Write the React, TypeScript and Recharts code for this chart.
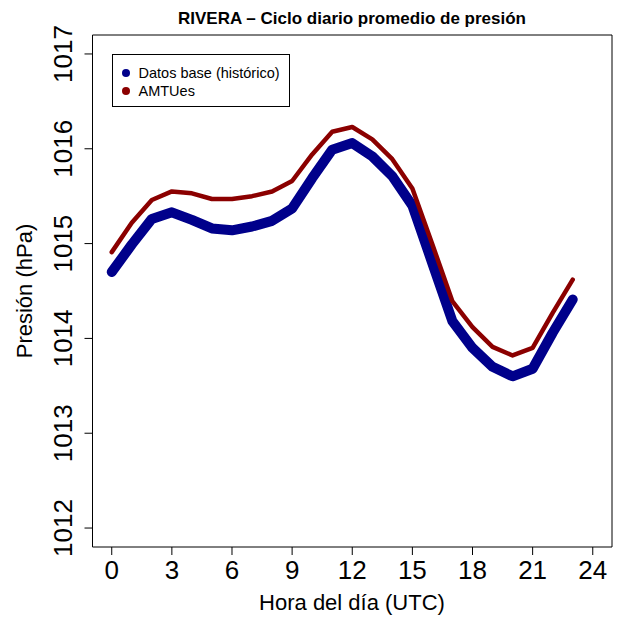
import { LineChart, Line, XAxis, YAxis, ReferenceArea } from "recharts"

const HOURS = [0, 1, 2, 3, 4, 5, 6, 7, 8, 9, 10, 11, 12, 13, 14, 15, 16, 17, 18, 19, 20, 21, 22, 23]
const BASE = [
  1014.70, 1014.99, 1015.26, 1015.33, 1015.25, 1015.16, 1015.14, 1015.18, 1015.24, 1015.37, 1015.69, 1015.99,
  1016.06, 1015.92, 1015.71, 1015.40, 1014.79, 1014.18, 1013.90, 1013.70, 1013.60, 1013.68, 1014.06, 1014.41,
]
const AMTUES = [
  1014.91, 1015.22, 1015.46, 1015.55, 1015.53, 1015.47, 1015.47, 1015.50, 1015.55, 1015.66, 1015.94, 1016.18,
  1016.23, 1016.10, 1015.89, 1015.58, 1014.99, 1014.39, 1014.12, 1013.91, 1013.82, 1013.90, 1014.27, 1014.62,
]
const X_TICKS = [0, 3, 6, 9, 12, 15, 18, 21, 24]
const Y_TICKS = [1012, 1013, 1014, 1015, 1016, 1017]
const X_DOMAIN: [number, number] = [-0.96, 24.96]
const Y_DOMAIN: [number, number] = [1011.8, 1017.2]

const SERIES = [
  { key: "base", name: "Datos base (histórico)", color: "#00008B" },
  { key: "amtues", name: "AMTUes", color: "#8B0000" },
]

const data = HOURS.map((h, i) => ({ hour: h, base: BASE[i], amtues: AMTUES[i] }))

const FONT = "'Liberation Sans', Arial, Helvetica, sans-serif"

const XTick = ({ x, y, payload }: any) => (
  <text x={x} y={y + 22} textAnchor="middle" fontSize={26} fill="#000" fontFamily={FONT}>
    {payload.value}
  </text>
)

const YTick = ({ x, y, payload }: any) => {
  const bx = x - 10
  return (
    <text x={bx} y={y} transform={`rotate(-90 ${bx} ${y})`} textAnchor="middle" fontSize={26} fill="#000" fontFamily={FONT}>
      {payload.value}
    </text>
  )
}

// legend drawn as an overlay box, like R's legend("topleft", ...)
const LegendBox = () => (
  <div style={{ position: "absolute", left: 111.5, top: 54, width: 176, height: 51, border: "1px solid #000", fontFamily: FONT, fontSize: 14.5, background: "#fff" }}>
    {SERIES.map((s, i) => (
      <div key={s.key} style={{ position: "absolute", left: 0, top: 9 + i * 18, display: "flex", alignItems: "center", lineHeight: "18px", whiteSpace: "nowrap" }}>
        <span style={{ marginLeft: 9, width: 8, height: 8, borderRadius: 4, background: s.color, display: "inline-block" }} />
        <span style={{ marginLeft: 9 }}>{s.name}</span>
      </div>
    ))}
  </div>
)

export default function App() {
  return (
    <div style={{ position: "absolute", left: 0, top: 0, width: 619, height: 617, background: "#fff" }}>
      <LineChart width={619} height={617} data={data} margin={{ top: 35, right: 7, left: 0, bottom: 0 }}>
        <XAxis
          dataKey="hour"
          type="number"
          domain={X_DOMAIN}
          ticks={X_TICKS}
          allowDataOverflow
          height={70}
          axisLine={false}
          tickLine={{ stroke: "#000" }}
          tickSize={8}
          tick={<XTick />}
          interval={0}
        />
        <YAxis
          type="number"
          domain={Y_DOMAIN}
          ticks={Y_TICKS}
          allowDataOverflow
          width={92.5}
          axisLine={false}
          tickLine={{ stroke: "#000" }}
          tickSize={8}
          tick={<YTick />}
          interval={0}
        />
        <ReferenceArea x1={X_DOMAIN[0]} x2={X_DOMAIN[1]} y1={Y_DOMAIN[0]} y2={Y_DOMAIN[1]} fill="none" stroke="#000" strokeWidth={1} ifOverflow="visible" />
        {SERIES.map((s, i) => (
          <Line
            key={s.key}
            dataKey={s.key}
            name={s.name}
            type="linear"
            stroke={s.color}
            strokeWidth={i === 0 ? 10 : 4.5}
            strokeLinecap="round"
            strokeLinejoin="round"
            dot={false}
            activeDot={false}
            isAnimationActive={false}
          />
        ))}
        <text x={352} y={24} textAnchor="middle" fontSize={17} fontWeight="bold" fontFamily={FONT} fill="#000">
          RIVERA – Ciclo diario promedio de presión
        </text>
        <text x={352} y={610} textAnchor="middle" fontSize={22} fontFamily={FONT} fill="#000">
          Hora del día (UTC)
        </text>
        <text x={32} y={291} transform="rotate(-90 32 291)" textAnchor="middle" fontSize={22} fontFamily={FONT} fill="#000">
          Presión (hPa)
        </text>
      </LineChart>
      <LegendBox />
    </div>
  )
}
